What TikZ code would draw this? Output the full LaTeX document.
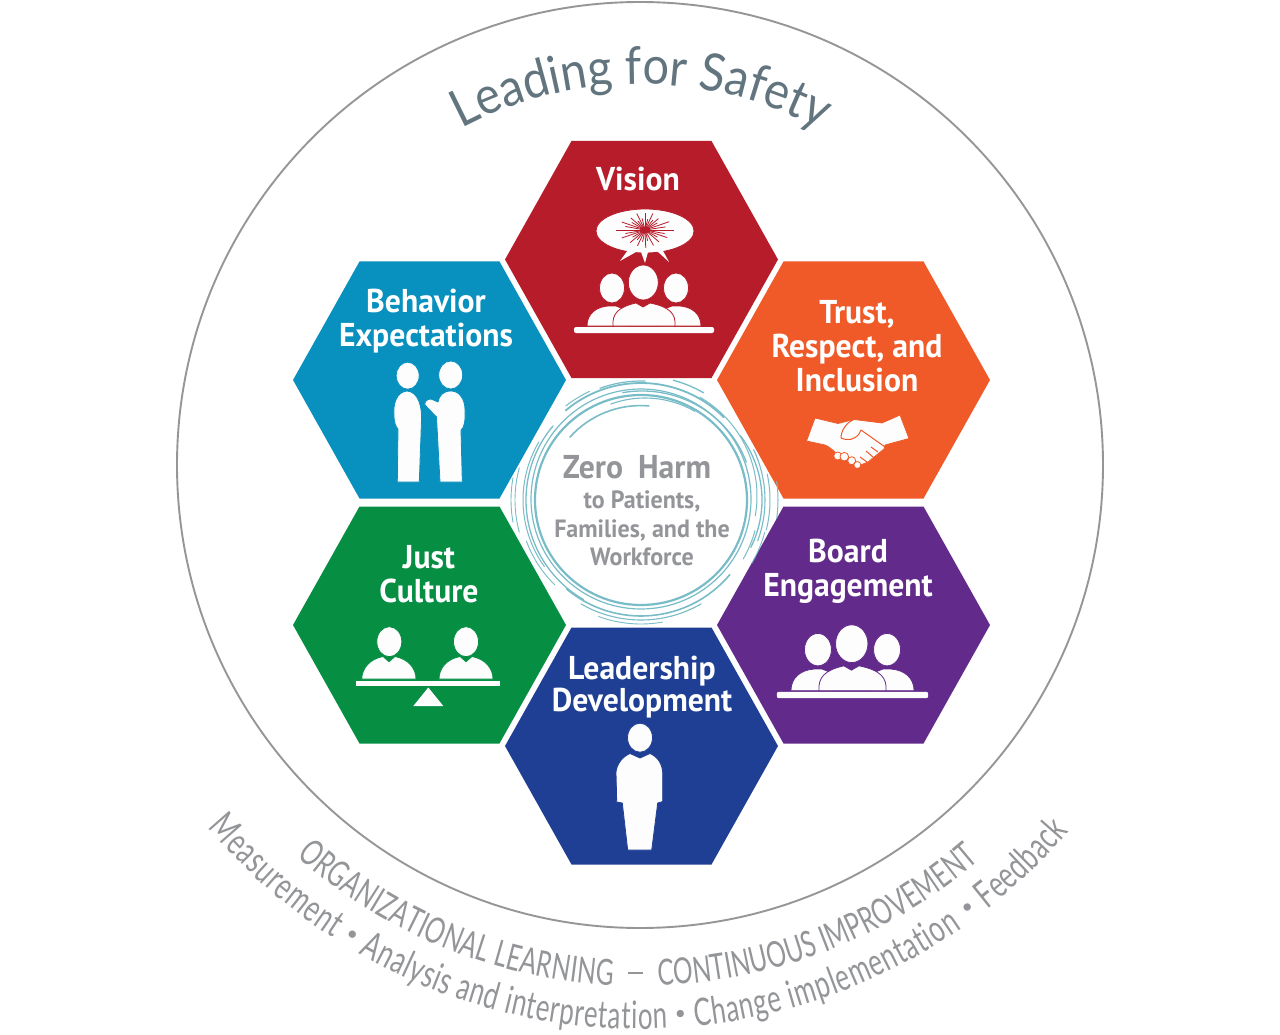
\documentclass[tikz,border=0pt]{standalone}
\usepackage{fontspec}
\setmainfont{PT Sans}
\newfontfamily\labfont[FakeStretch=0.96]{PT Sans}
\newfontfamily\arcfont[FakeStretch=0.68]{Lato}
\newfontfamily\topfont[FakeStretch=0.9]{Lato}
\usetikzlibrary{decorations.text}
\definecolor{cvision}{HTML}{B71C2B}
\definecolor{cbehav}{HTML}{0890BE}
\definecolor{ctrust}{HTML}{EF5A28}
\definecolor{cjust}{HTML}{068E43}
\definecolor{cboard}{HTML}{622A8A}
\definecolor{clead}{HTML}{1F3F94}
\definecolor{ctext}{HTML}{939598}
\definecolor{cring}{HTML}{969696}
\definecolor{ctop}{HTML}{62757F}
\definecolor{cswirl}{HTML}{78BCC7}
\definecolor{icon}{HTML}{FDFDFD}
\tikzset{
  hexa/.style={fill=#1,draw=none},
  lab/.style={text=white,font=\labfont\bfseries\fontsize{33}{34}\selectfont,align=center,inner sep=0pt},
  ctr/.style={text=ctext,font=\labfont\bfseries\fontsize{25}{28.5}\selectfont,align=center,inner sep=0pt},
  ico/.style={fill=icon,draw=#1,line width=0.8pt,line join=round},
  swirl/.style={draw=cswirl,line width=#1,line cap=round},
  arctext/.style={decorate,decoration={text along path,text align={fit to path},text={|\arcfont\fontsize{#1}{40}\selectfont\color{ctext}|\arctxt}}}
}
\newcommand{\hexat}[2]{\path[hexa=#2] ([shift={#1}]-136.5,0) -- ([shift={#1}]-70,-118.5) -- ([shift={#1}]70,-118.5) -- ([shift={#1}]136.5,0) -- ([shift={#1}]70,118.5) -- ([shift={#1}]-70,118.5) -- cycle;}
\newcommand{\trio}[1]{%
  \path[ico=#1] (-57,-4) .. controls (-57,-16) and (-48,-23) .. (-36,-24) -- (-28,-24) -- (-18,-20) -- (-18,-4) -- cycle;
  \path[ico=#1] (57,-4) .. controls (57,-16) and (48,-23) .. (36,-24) -- (28,-24) -- (18,-20) -- (18,-4) -- cycle;
  \path[ico=#1] (-31,-4) .. controls (-32,-16) and (-26,-23) .. (-8,-27) -- (-1,-23) -- (6,-27) .. controls (26,-23) and (32,-16) .. (31,-4) -- cycle;
  \path[ico=#1] (-32,-42) ellipse[x radius=12.5,y radius=15];
  \path[ico=#1] (32,-42) ellipse[x radius=12.5,y radius=15];
  \path[ico=#1] (-0.7,-47.5) ellipse[x radius=15,y radius=17.5];
  \path[fill=icon,rounded corners=2pt] (-70,-3) rectangle (70,3);
}
\begin{document}
\begin{tikzpicture}[x=1pt,y=-1pt]
\useasboundingbox (0,0) rectangle (1280,1035);
\fill[white] (0,0) rectangle (1280,1035);
% ring
\draw[cring,line width=1.9pt] (640,465) circle[radius=463];
% hexagons
\hexat{(641.5,259.5)}{cvision}
\hexat{(429.5,380)}{cbehav}
\hexat{(853.5,380)}{ctrust}
\hexat{(429.5,625)}{cjust}
\hexat{(853.5,625)}{cboard}
\hexat{(641.5,746)}{clead}
% labels
\node[lab] (vision) at (638,179) {Vision};
\node[lab] (behavior) at (426,321) {Behavior\\Expectations};
\node[lab] (trust) at (857,346) {Trust,\\Respect, and\\Inclusion};
\node[lab] (board) at (848,571.5) {Board\\Engagement};
\node[lab] (just) at (429,574) {Just\\Culture};
\node[lab,font=\labfont\bfseries\fontsize{33}{32}\selectfont] (leader) at (642,687.5) {Leadership\\Development};
% vision icon
\path[ico=cvision] (645,231) ellipse[x radius=49,y radius=22];
\path[fill=icon] (628,250) -- (620,261) -- (636,252) -- cycle;
\path[fill=icon] (641,252) -- (645,263) -- (648,252) -- cycle;
\path[fill=icon] (657,251) -- (669,262) -- (662,249) -- cycle;
\foreach \a/\r in {0/29,22/24,45/20,65/20,88/21,112/20,135/21,158/25,180/29,202/25,225/20,247/21,270/20,292/21,315/19,338/26,12/20,34/15,78/13,100/14,124/14,146/15,168/20,192/20,214/16,236/13,258/14,282/13,304/14,326/15,350/21}{
  \draw[cvision,line width=0.8pt] (645,230) -- ++({\r*cos(\a)},{\r*0.85*sin(\a)});
}
\fill[cvision] (645,230) ellipse[x radius=5,y radius=3.5];
\begin{scope}[shift={(644,330)}]\trio{cvision}\end{scope}
% board icon
\begin{scope}[shift={(852.5,695)},scale=1.08]\trio{cboard}\end{scope}
% behavior icon
\path[ico=cbehav] (407.7,375.7) ellipse[x radius=11.5,y radius=13.5];
\path[ico=cbehav] (450.7,375) ellipse[x radius=12,y radius=14];
\path[ico=cbehav] (407,391) .. controls (396,392) and (393,405) .. (394,415) .. controls (394,423) and (396,427) .. (398,429) -- (397.3,482) -- (419.3,482) -- (421.5,420) .. controls (422,408) and (419,392) .. (407,391) -- cycle;
\path[ico=cbehav] (451,391) .. controls (443,391) and (439,396) .. (438,402) -- (431,399) .. controls (427,399) and (424,402) .. (425,405) -- (436.5,417) -- (440,482) -- (462.3,482) -- (461,430) .. controls (464,428) and (465.5,422) .. (465,410) .. controls (465,400) and (460,391) .. (451,391) -- cycle;
% handshake
\path[ico=ctrust] (815,418) -- (806.5,441) -- (825,445) .. controls (830,447) and (835,452) .. (838,455) -- (858,466) -- (868,462) -- (884,449) -- (885,445) -- (909,438.5) -- (900,415) -- (882,423) -- (854,419.5) -- (838,423.5) -- cycle;
\draw[ctrust,line width=1pt,line join=round] (853,420) .. controls (846,423) and (841,431) .. (841,438) .. controls (848,441) and (854,440) .. (859,434) -- (861,430) -- (885,447);
\draw[ctrust,line width=1pt] (860,457) -- (867,462) (866,451) -- (873,457) (871,447) -- (878,452);
\foreach \x/\y/\r in {837.7/456/4,844.3/456.7/4.3,851.7/460.7/4,857.3/465/3.5}{\path[ico=ctrust] (\x,\y) circle[radius=\r];}
% just culture icon
\path[ico=cjust] (361.7,679) .. controls (362,668) and (370,659) .. (383,656.5) -- (389,661.7) -- (395,656.5) .. controls (408,659) and (416,668) .. (416,679) -- cycle;
\path[ico=cjust] (439,679) .. controls (439,668) and (447,659) .. (460,656.5) -- (466,661.7) -- (472,656.5) .. controls (485,659) and (493,668) .. (493,679) -- cycle;
\path[ico=cjust] (389.3,641.7) ellipse[x radius=12.5,y radius=15];
\path[ico=cjust] (466,641.7) ellipse[x radius=12.5,y radius=15];
\path[fill=icon] (355.7,681) rectangle (500,686);
\path[fill=icon] (428.3,687.5) -- (413.3,706) -- (443.3,706) -- cycle;
% leadership icon
\path[ico=clead] (630,753.5) -- (640,758) -- (650,753.5) .. controls (658,757) and (662,764) .. (662.7,772) -- (662.7,801.5) -- (657.7,803) -- (651.7,850) -- (627.7,850) -- (622.3,803) -- (616.7,802) -- (616,772) .. controls (617,764) and (622,757) .. (630,753.5) -- cycle;
\path[ico=clead] (640,737.7) ellipse[x radius=12.5,y radius=14.5];
% swirl rings
\begin{scope}[y=1pt,shift={(641,-500)}]
\draw[swirl=2.2pt] (0,0) ellipse[x radius=106,y radius=105];
\draw[swirl=1.2pt] (0,1) ellipse[x radius=110,y radius=110];
\draw[swirl=1.6pt] (-71,63) arc[start angle=138,end angle=85,radius=95];
\foreach \rx/\ry/\dx/\dy/\s/\e/\w in {
  117/117/0/0/130/45/1.8, 119/112/2/0/35/-25/1.3, 114/114/2/4/60/-10/1,
  121/119/3/0/25/-20/1.1, 126/124/3/0/12/-14/1, 134/132/3/0/8/-8/1,
  111/108/1/1/100/20/1.3, 100/100/4/2/110/60/1.1,
  115/115/0/0/140/240/1.3, 118/116/0/0/150/215/1, 126/124/0/0/195/165/0.9,
  130/128/0/0/190/170/0.9, 122/120/0/0/200/225/0.9,
  116/116/0/0/230/320/1.6, 120/120/0/0/240/300/1.1, 124/124/0/0/250/280/0.9,
  120/120/0/-1/110/88/1.2, 125/125/0/-1/75/60/1.3, 122/122/0/-2/128/115/1,
  128/126/0/0/345/330/0.9, 118/118/0/0/330/345/1}{
  \draw[swirl=\w pt] ({\dx+\rx*cos(\s)},{\dy+\ry*sin(\s)}) arc[start angle=\s,end angle=\e,x radius=\rx,y radius=\ry];
}
\end{scope}
% centre text
\node[ctr,font=\labfont\bfseries\fontsize{33}{34}\selectfont] (zero) at (637,467) {Zero\hspace{7pt} Harm};
\node[ctr] (patients) at (642,528.5) {to Patients,\\Families, and the\\Workforce};
% arc texts
\begin{scope}[y=1pt,shift={(640,-465)}]
\path[decorate,decoration={text along path,text align={fit to path},
  text={|\topfont\fontsize{52}{60}\selectfont\color{ctop}|Leading for Safety}}]
  (118:381) arc[start angle=118,end angle=62.3,radius=381];
\def\arctxt{ORGANIZATIONAL LEARNING}
\path[arctext=36] (-131.3:521) arc[start angle=-131.3,end angle=-93,radius=521];
\def\arctxt{CONTINUOUS IMPROVEMENT}
\path[arctext=36] (-88:521) arc[start angle=-88,end angle=-49.3,radius=521];
\def\arctxt{Measurement}
\path[arctext=38] (-140:564) arc[start angle=-140,end angle=-123,radius=564];
\def\arctxt{Analysis and interpretation}
\path[arctext=38] (-119.9:564) arc[start angle=-119.9,end angle=-87.2,radius=564];
\def\arctxt{Change implementation}
\path[arctext=38] (-84.4:564) arc[start angle=-84.4,end angle=-55.2,radius=564];
\def\arctxt{Feedback}
\path[arctext=38] (-52:564) arc[start angle=-52,end angle=-40.5,radius=564];
\foreach \c in {-121.5,-85.8,-53.5}{
  \path[decorate,decoration={text along path,text align=center,raise=5.5pt,
    text={|\rmfamily\fontsize{26}{30}\selectfont\color{ctext}|•}}]
    (\c-2:564) arc[start angle=\c-2,end angle=\c+2,radius=564];
}
\end{scope}
\draw[ctext,line width=1.2pt] (628,973) coordinate (dasha) -- (643,973) coordinate (dashb);
\end{tikzpicture}
\end{document}
